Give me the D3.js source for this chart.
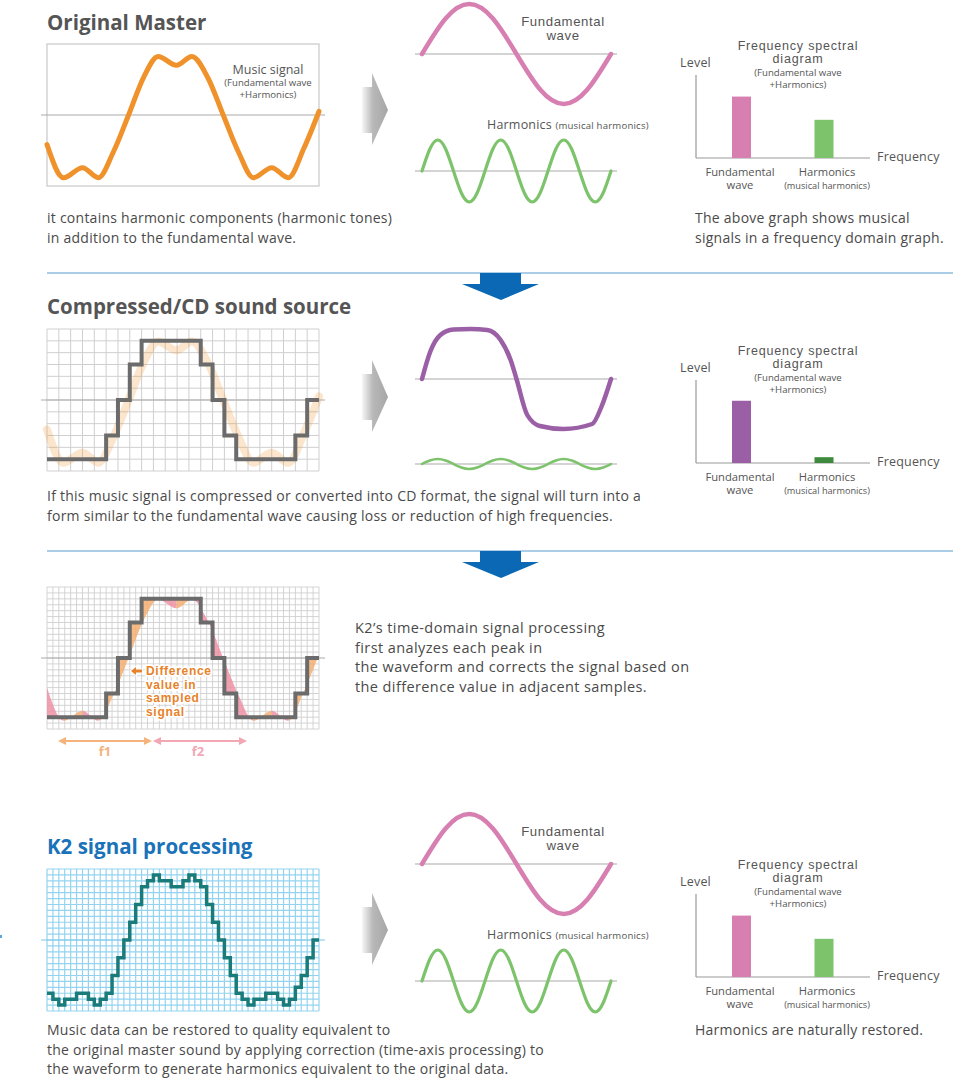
<!DOCTYPE html>
<html><head><meta charset="utf-8">
<script src="https://cdn.jsdelivr.net/npm/d3@7"></script>
<style>
body{margin:0;background:#fff}
svg{display:block}
text{font-family:'Open Sans',sans-serif}
text.compact{font-family:'Liberation Sans',Arial,sans-serif}
</style></head><body>
<script>
// ---------------- DATA ----------------
// Original music signal: time units (0..46 = one box width), level in grid rows (+ up)
const masterT     = [0, 2.8, 6.0, 8.7, 11.2, 13.8, 16.4, 18.8, 21.9, 24.5, 27.2, 29.8, 32.4, 34.9, 38.0, 40.8, 43.5, 46];
const masterLevel = [-5.0, -10.6, -8.9, -10.6, -6.3, 0, 6.5, 9.9, 8.4, 9.9, 6.3, 0, -6.3, -10.6, -8.9, -10.6, -5.5, 0.6];
// Compressed / CD staircase: one value per coarse sample (2 time units)
const cdSteps = [-10,-10,-10,-10,-10,-6,0,6,10,10,10,10,10,6,0,-6,-10,-10,-10,-10,-10,-6,0];
// K2 staircase: one value per fine sample (1 time unit)
const k2Steps = [-9,-10,-11,-10,-10,-9,-9,-10,-11,-10,-9,-6,-3,0,3,6,9,10,11,10,10,9,9,10,11,10,9,6,3,0,-3,-6,-9,-10,-11,-10,-10,-9,-9,-10,-11,-10,-8,-6,-3,0];
// Fundamental wave samples (eighths of a period)
const fundT = [0, 0.125, 0.25, 0.375, 0.5, 0.625, 0.75, 0.875, 1];
const fundV = [0, 0.71, 1, 0.71, 0, -0.71, -1, -0.71, 0];
// Harmonics samples (24ths of the fundamental period: three cycles)
const harmT = [0,1,2,3,4,5,6,7,8,9,10,11,12,13,14,15,16,17,18,19,20,21,22,23,24];
const harmV = [0,0.71,1,0.71,0,-0.71,-1,-0.71,0,0.71,1,0.71,0,-0.71,-1,-0.71,0,0.71,1,0.71,0,-0.71,-1,-0.71,0];
// Compressed (squarish) fundamental
const cdFundT = [0,0.044,0.097,0.166,0.257,0.345,0.416,0.469,0.5,0.557,0.624,0.748,0.9,0.95,1];
const cdFundV = [0,0.55,0.88,0.99,1,0.98,0.78,0.38,0,-0.72,-0.94,-1,-0.9,-0.55,0];
// Harmonic amplitude relative to fundamental, per section
const harmAmp = [0.62, 0.1, 0.62];
// Spectrum
const specCats = ["Fundamental wave", "Harmonics"];
const specLevels = [[74, 46], [75, 7], [74, 46]];

// ---------------- DRAW ----------------
const W = 980, H = 1081;
const svg = d3.select("body").append("svg").attr("width", W).attr("height", H);
const defs = svg.append("defs");

const txtCol = "#555";
const gridGray = "#cfcfcf";
const midGray = "#aaaaaa";

const grad = defs.append("linearGradient").attr("id", "garrow").attr("x1", "0").attr("x2", "1").attr("y1", "0").attr("y2", "0");
grad.append("stop").attr("offset", "0").attr("stop-color", "#f6f6f6");
grad.append("stop").attr("offset", "0.42").attr("stop-color", "#b8b8b8");
grad.append("stop").attr("offset", "1").attr("stop-color", "#a6a6a6");

function text(g, x, y, s, opt = {}) {
  const t = g.append("text").attr("x", x).attr("y", y).attr("dy", "0.35em")
    .attr("font-size", opt.size || 13).attr("fill", opt.fill || txtCol)
    .attr("text-anchor", opt.anchor || "start")
    .attr("font-weight", opt.weight || 400).text(s);
  if (opt.ls) t.attr("letter-spacing", opt.ls);
  if (opt.cls) t.attr("class", opt.cls);
  return t;
}
const body = {size: 14, ls: 0.25, fill: "#4a4a4a"};

const masterPts = masterT.map((t, i) => [t, masterLevel[i]]);
const stepPts = (arr, w) => arr.map((v, i) => [i * w, v]).concat([[arr.length * w, arr[arr.length - 1]]]);

function boxScales(top) {
  const x = d3.scaleLinear().domain([0, 46]).range([47, 319]);
  const y = d3.scaleLinear().domain([-12, 12]).range([top + 142, top]);
  return {x, y};
}
function grid(g, s, nx, ny, color, sw) {
  const xs = d3.range(nx + 1).map(i => s.x(i * 46 / nx));
  const ys = d3.range(ny + 1).map(i => s.y(-12 + i * 24 / ny));
  g.selectAll(null).data(xs).enter().append("line")
    .attr("x1", d => d).attr("x2", d => d).attr("y1", s.y(12)).attr("y2", s.y(-12))
    .attr("stroke", color).attr("stroke-width", sw);
  g.selectAll(null).data(ys).enter().append("line")
    .attr("x1", s.x(0)).attr("x2", s.x(46)).attr("y1", d => d).attr("y2", d => d)
    .attr("stroke", color).attr("stroke-width", sw);
}
function midline(g, s, color) {
  g.append("line").attr("x1", s.x(0) - 6).attr("x2", s.x(46) + 6)
    .attr("y1", s.y(0)).attr("y2", s.y(0)).attr("stroke", color).attr("stroke-width", 1.2);
}
function grayArrow(cy) {
  const pts = [[362, cy - 22], [372, cy - 22], [372, cy - 36], [388, cy + 1], [372, cy + 36], [372, cy + 24], [362, cy + 24]];
  svg.append("path").attr("d", d3.line()(pts) + "Z").attr("fill", "url(#garrow)");
}
function blueArrow(y0) {
  svg.append("line").attr("x1", 47).attr("x2", 953).attr("y1", y0).attr("y2", y0)
    .attr("stroke", "#5a9bd0").attr("stroke-width", 1.2);
  const pts = [[480, y0], [521, y0], [521, y0 + 11], [539, y0 + 11], [501, y0 + 27], [462, y0 + 11], [480, y0 + 11]];
  svg.append("path").attr("d", d3.line()(pts) + "Z").attr("fill", "#0a68b4");
}
function waves(midF, midH, fT, fV, fCol, hCol, amp, hw, fw) {
  const x = d3.scaleLinear().domain([0, 1]).range([422, 611]);
  const yF = d3.scaleLinear().domain([-1, 1]).range([midF + 50, midF - 50]);
  const yH = d3.scaleLinear().domain([-1, 1]).range([midH + 50, midH - 50]);
  [midF, midH].forEach(m => svg.append("line").attr("x1", 415).attr("x2", 617).attr("y1", m).attr("y2", m)
    .attr("stroke", midGray).attr("stroke-width", 1.2));
  svg.append("path").attr("d", d3.line().curve(fT === fundT ? d3.curveNatural : d3.curveMonotoneX)
      .x((d, i) => x(fT[i])).y(d => yF(d))(fV))
    .attr("fill", "none").attr("stroke", fCol).attr("stroke-width", fw).attr("stroke-linecap", "round");
  svg.append("path").attr("d", d3.line().curve(d3.curveNatural)
      .x((d, i) => x(harmT[i] / 24)).y(d => yH(d * amp))(harmV))
    .attr("fill", "none").attr("stroke", hCol).attr("stroke-width", hw).attr("stroke-linecap", "round");
}
function spectrum(off, levels, colors) {
  const g = svg.append("g").attr("transform", `translate(0,${off})`);
  const y = d3.scaleLinear().domain([0, 100]).range([158, 75]);
  const xc = [741.5, 824];
  g.append("line").attr("x1", 696).attr("x2", 696).attr("y1", 75).attr("y2", 158).attr("stroke", "#999").attr("stroke-width", 1.2);
  g.append("line").attr("x1", 696).attr("x2", 870).attr("y1", 158).attr("y2", 158).attr("stroke", "#999").attr("stroke-width", 1.2);
  g.selectAll(null).data(levels).enter().append("rect")
    .attr("x", (d, i) => xc[i] - 9.5).attr("width", 19)
    .attr("y", d => y(d)).attr("height", d => 158 - y(d))
    .attr("fill", (d, i) => colors[i]);
  text(g, 680, 63, "Level", {size: 12.5, ls: 0.2});
  text(g, 877, 157, "Frequency", {size: 12.5, ls: 0.2});
  text(g, 798, 45.5, "Frequency spectral", {size: 12.5, anchor: "middle", ls: 0.8, cls: "compact"});
  text(g, 798, 59, "diagram", {size: 12.5, anchor: "middle", ls: 0.8, cls: "compact"});
  text(g, 798, 73, "(Fundamental wave", {size: 9.6, anchor: "middle"});
  text(g, 798, 85, "+Harmonics)", {size: 9.6, anchor: "middle"});
  text(g, 740, 172, "Fundamental", {size: 11.2, anchor: "middle"});
  text(g, 740, 185, "wave", {size: 11.2, anchor: "middle"});
  text(g, 827, 172, "Harmonics", {size: 11.2, anchor: "middle"});
  text(g, 827, 186, "(musical harmonics)", {size: 9.2, anchor: "middle"});
}

const masterLine = s => d3.line().curve(d3.curveMonotoneX).x(d => s.x(d[0])).y(d => s.y(d[1]));
const stepLine = s => d3.line().curve(d3.curveStepAfter).x(d => s.x(d[0])).y(d => s.y(d[1]));

// ===== Section 1 =====
text(svg, 47, 23, "Original Master", {size: 20.5, weight: 700, fill: "#555"});
const s1 = boxScales(44);
const g1 = svg.append("g");
g1.append("rect").attr("x", 47).attr("y", 44).attr("width", 272).attr("height", 142)
  .attr("fill", "none").attr("stroke", "#c8c8c8").attr("stroke-width", 1.2);
midline(g1, s1, midGray);
g1.append("path").attr("d", masterLine(s1)(masterPts)).attr("fill", "none")
  .attr("stroke", "#f0922b").attr("stroke-width", 5).attr("stroke-linecap", "round");
text(g1, 268, 70, "Music signal", {size: 12.5, anchor: "middle"});
text(g1, 268, 83, "(Fundamental wave", {size: 9.6, anchor: "middle"});
text(g1, 268, 95, "+Harmonics)", {size: 9.6, anchor: "middle"});
grayArrow(109);
waves(54, 171, fundT, fundV, "#d77fb1", "#7dc36b", harmAmp[0], 3.2, 4.5);
text(svg, 563, 21, "Fundamental", {size: 13.2, anchor: "middle", ls: 0.6, cls: "compact"});
text(svg, 563, 35.5, "wave", {size: 13.2, anchor: "middle", ls: 0.6, cls: "compact"});
const h1 = text(svg, 487, 125, "Harmonics ", {size: 12.5, ls: 0.2});
h1.append("tspan").attr("font-size", 9.6).text("(musical harmonics)");
spectrum(0, specLevels[0], ["#d77fb1", "#7dc36b"]);
text(svg, 47, 218, "it contains harmonic components (harmonic tones)", body);
text(svg, 47, 238, "in addition to the fundamental wave.", body);
text(svg, 695, 218, "The above graph shows musical", body);
text(svg, 695, 238, "signals in a frequency domain graph.", body);
blueArrow(273);

// ===== Section 2 =====
text(svg, 47, 307, "Compressed/CD sound source", {size: 20.5, weight: 700, fill: "#555"});
const s2 = boxScales(329);
const g2 = svg.append("g");
grid(g2, s2, 23, 12, gridGray, 1);
midline(g2, s2, midGray);
g2.append("path").attr("d", masterLine(s2)(masterPts)).attr("fill", "none")
  .attr("stroke", "#f0922b").attr("stroke-opacity", 0.24).attr("stroke-width", 8).attr("stroke-linecap", "round");
g2.append("path").attr("d", stepLine(s2)(stepPts(cdSteps, 2))).attr("fill", "none")
  .attr("stroke", "#6b6b6b").attr("stroke-width", 4);
grayArrow(396);
waves(379, 464, cdFundT, cdFundV, "#9b5fa6", "#7dc36b", harmAmp[1], 2.5, 4.5);
spectrum(305, specLevels[1], ["#9b5fa6", "#3e8a3e"]);
text(svg, 47, 496, "If this music signal is compressed or converted into CD format, the signal will turn into a", body);
text(svg, 47, 516, "form similar to the fundamental wave causing loss or reduction of high frequencies.", body);
blueArrow(551);

// ===== Section 3 =====
const s3 = boxScales(587);
const g3 = svg.append("g");
grid(g3, s3, 46, 24, gridGray, 0.9);
const bottom = s3.y(-12), left = s3.x(0), right = s3.x(46);
const diffD = masterLine(s3)(masterPts) + `L${right},${bottom}L${left},${bottom}Z` +
              stepLine(s3)(stepPts(cdSteps, 2)) + `L${right},${bottom}L${left},${bottom}Z`;
const segs = d3.range(masterT.length - 1).map(i => ({
  t0: masterT[i], t1: masterT[i + 1], rising: masterLevel[i + 1] > masterLevel[i]
}));
["rise", "fall"].forEach(k => {
  const cp = defs.append("clipPath").attr("id", "clip-" + k);
  cp.selectAll("rect").data(segs.filter(d => d.rising === (k === "rise"))).enter().append("rect")
    .attr("x", d => s3.x(d.t0)).attr("width", d => s3.x(d.t1) - s3.x(d.t0))
    .attr("y", s3.y(12)).attr("height", bottom - s3.y(12));
});
g3.append("path").attr("d", diffD).attr("fill-rule", "evenodd").attr("fill", "#f5ae72")
  .attr("fill-opacity", 0.85).attr("clip-path", "url(#clip-rise)");
g3.append("path").attr("d", diffD).attr("fill-rule", "evenodd").attr("fill", "#ee92a4")
  .attr("fill-opacity", 0.85).attr("clip-path", "url(#clip-fall)");
midline(g3, s3, midGray);
g3.append("path").attr("d", stepLine(s3)(stepPts(cdSteps, 2))).attr("fill", "none")
  .attr("stroke", "#6b6b6b").attr("stroke-width", 4);
const diffLines = ["Difference", "value in", "sampled", "signal"];
diffLines.forEach((s, i) => {
  g3.append("text").attr("x", 146).attr("y", 671 + i * 13.5).attr("dy", "0.35em")
    .attr("class", "compact")
    .attr("font-size", 12).attr("letter-spacing", 0.7).attr("font-weight", 700).attr("fill", "#e8822a")
    .attr("stroke", "#fff").attr("stroke-width", 3.5).attr("paint-order", "stroke").attr("stroke-linejoin", "round")
    .text(s);
});
g3.append("path").attr("d", "M131,671L136,667L136,669.6L142,669.6L142,672.4L136,672.4L136,675Z")
  .attr("fill", "#e8822a").attr("stroke", "#fff").attr("stroke-width", 2).attr("paint-order", "stroke");
function hArrow(x0, x1, y, col) {
  g3.append("line").attr("x1", x0 + 3).attr("x2", x1 - 3).attr("y1", y).attr("y2", y).attr("stroke", col).attr("stroke-width", 2);
  g3.append("path").attr("d", `M${x0},${y}L${x0 + 8},${y - 4}L${x0 + 8},${y + 4}Z`).attr("fill", col);
  g3.append("path").attr("d", `M${x1},${y}L${x1 - 8},${y - 4}L${x1 - 8},${y + 4}Z`).attr("fill", col);
}
hArrow(58, 152, 741, "#f5b47d");
hArrow(153, 247, 741, "#f2a7b5");
text(g3, 105, 751, "f1", {size: 13, weight: 700, fill: "#f5b47d", anchor: "middle"});
text(g3, 198, 751, "f2", {size: 13, weight: 700, fill: "#f2a7b5", anchor: "middle"});
const b3 = {size: 14.5, ls: 0.4, fill: "#4a4a4a"};
text(svg, 355, 628, "K2\u2019s time-domain signal processing", b3);
text(svg, 355, 648, "first analyzes each peak in", b3);
text(svg, 355, 667, "the waveform and corrects the signal based on", b3);
text(svg, 355, 687, "the difference value in adjacent samples.", b3);

// ===== Section 4 =====
text(svg, 47, 847, "K2 signal processing", {size: 20.5, weight: 700, fill: "#1a72b9"});
svg.append("rect").attr("x", 0).attr("y", 935).attr("width", 2).attr("height", 3).attr("fill", "#5aa7dc");
const s4 = boxScales(869);
const g4 = svg.append("g");
grid(g4, s4, 46, 24, "#93d3ef", 1.2);
midline(g4, s4, "#7cc6ea");
g4.append("path").attr("d", stepLine(s4)(stepPts(k2Steps, 1))).attr("fill", "none")
  .attr("stroke", "#1a7b7b").attr("stroke-width", 3.5);
grayArrow(929);
waves(864, 981, fundT, fundV, "#d77fb1", "#7dc36b", harmAmp[2], 3.2, 4.5);
text(svg, 563, 831, "Fundamental", {size: 13.2, anchor: "middle", ls: 0.6, cls: "compact"});
text(svg, 563, 845.5, "wave", {size: 13.2, anchor: "middle", ls: 0.6, cls: "compact"});
const h4 = text(svg, 487, 935, "Harmonics ", {size: 12.5, ls: 0.2});
h4.append("tspan").attr("font-size", 9.6).text("(musical harmonics)");
spectrum(819, specLevels[2], ["#d77fb1", "#7dc36b"]);
text(svg, 47, 1030, "Music data can be restored to quality equivalent to", body);
text(svg, 47, 1050, "the original master sound by applying correction (time-axis processing) to", body);
text(svg, 47, 1069, "the waveform to generate harmonics equivalent to the original data.", body);
text(svg, 695, 1030, "Harmonics are naturally restored.", body);
</script>
</body></html>
